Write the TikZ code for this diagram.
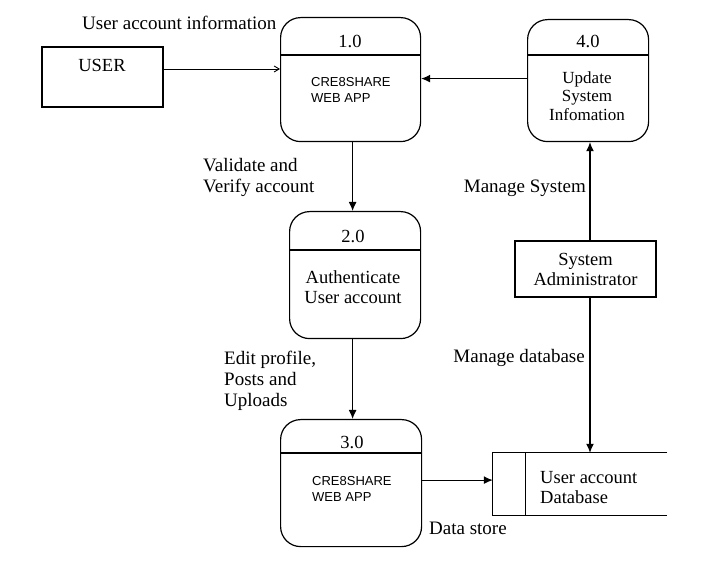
\documentclass[tikz,border=0pt]{standalone}
\usepackage{fontspec}
\setmainfont{Liberation Serif}
\newfontfamily\arialf{Liberation Sans}
\usetikzlibrary{arrows.meta,calc}
\begin{document}
\begin{tikzpicture}[x=1pt,y=-1pt,
  lbl/.style={font=\fontsize{19}{21}\selectfont, inner sep=0pt, align=left},
  proc/.style={draw, line width=1.2pt, rounded corners=20pt, anchor=north west, inner sep=0pt},
  arr/.style={line width=1.2pt, -{Latex[length=9pt,width=8pt]}},
  thinarr/.style={line width=0.9pt, -{Straight Barb[length=5pt,width=6pt]}},
  num/.style={font=\fontsize{18.5}{21}\selectfont, inner sep=0pt},
  sans/.style={font=\arialf\fontsize{13}{16}\selectfont, inner sep=0pt, align=left, anchor=west},
  serifin/.style={font=\fontsize{17}{20}\selectfont, inner sep=0pt, align=center}
]
\useasboundingbox[fill=white] (0,0) rectangle (702,577);

% USER
\node[draw, line width=1.2pt, minimum width=121pt, minimum height=60pt, inner sep=0pt] (user) at (102.5,77) {};
\node[num] (usert) at (102,65) {USER};

% process 1.0
\node[proc, minimum width=140pt, minimum height=124pt] (p1) at (280,17) {};
\draw[line width=1.2pt] ($(p1.north west)+(0,38)$) -- ($(p1.north east)+(0,38)$);
\node[num] (p1n) at (350,41) {1.0};
\node[sans] (p1t) at (311,90) {CRE8SHARE\\WEB APP};

% process 4.0
\node[proc, minimum width=121pt, minimum height=122pt] (p4) at (527,19) {};
\draw[line width=1.2pt] ($(p4.north west)+(0,36)$) -- ($(p4.north east)+(0,36)$);
\node[num] (p4n) at (588,41) {4.0};
\node[serifin, font=\fontsize{17}{18.5}\selectfont] (p4t) at (587,96) {Update\\System\\Infomation};

% process 2.0
\node[proc, minimum width=131pt, minimum height=127pt] (p2) at (289,211) {};
\draw[line width=1.2pt] ($(p2.north west)+(0,39)$) -- ($(p2.north east)+(0,39)$);
\node[num] (p2n) at (353,236) {2.0};
\node[serifin, font=\fontsize{18.5}{20}\selectfont] (p2t) at (353,287) {Authenticate\\User account};

% process 3.0
\node[proc, minimum width=141pt, minimum height=127pt] (p3) at (280,419) {};
\draw[line width=1.2pt] ($(p3.north west)+(0,34)$) -- ($(p3.north east)+(0,34)$);
\node[num] (p3n) at (352,442) {3.0};
\node[sans] (p3t) at (312,489) {CRE8SHARE\\WEB APP};

% System Administrator
\node[draw, line width=1.2pt, minimum width=141pt, minimum height=56pt, inner sep=0pt,
      align=center, font=\fontsize{18.5}{20}\selectfont] (sa) at (585.5,269) {System\\Administrator};

% Data store
\node[minimum width=174pt, minimum height=62pt, inner sep=0pt] (store) at (580,484) {};
\draw[line width=1.2pt] (store.north east) -- (store.north west) -- (store.south west) -- (store.south east);
\draw[line width=1.2pt] ($(store.north west)+(33,0)$) -- ($(store.south west)+(33,0)$);
\node[lbl, anchor=west, font=\fontsize{18.5}{20}\selectfont] (storet) at (540,488) {User account\\Database};

% connectors
\draw[thinarr] ([yshift=8pt]user.east) -- ([yshift=8pt]user.east -| p1.west);
\draw[arr] ([yshift=2pt]p4.west) -- ([yshift=2pt]p4.west -| p1.east);
\draw[arr] ([xshift=2pt]p1.south) -- ([xshift=2pt]p1.south |- p2.north);
\draw[arr] ([xshift=-2.5pt]p2.south) -- ([xshift=-2.5pt]p2.south |- p3.north);
\draw[arr] ([yshift=3pt]p3.east) -- ([yshift=3pt]p3.east -| store.west);
\draw[arr] ([xshift=4.5pt]sa.north) -- ([xshift=4.5pt]sa.north |- p4.south);
\draw[arr] ([xshift=4.5pt]sa.south) -- ([xshift=4.5pt]sa.south |- store.north);

% labels
\node[lbl, anchor=west] (l1) at (82,23) {User account information};
\node[lbl, anchor=west] (l2) at (203,177) {Validate and\\Verify account};
\node[lbl, anchor=east] (l3) at (586,188) {Manage System};
\node[lbl, anchor=east] (l4) at (585,358) {Manage database};
\node[lbl, anchor=west] (l5) at (224,381) {Edit profile,\\Posts and\\Uploads};
\node[lbl, anchor=west] (l6) at (429,528) {Data store};
\end{tikzpicture}
\end{document}
